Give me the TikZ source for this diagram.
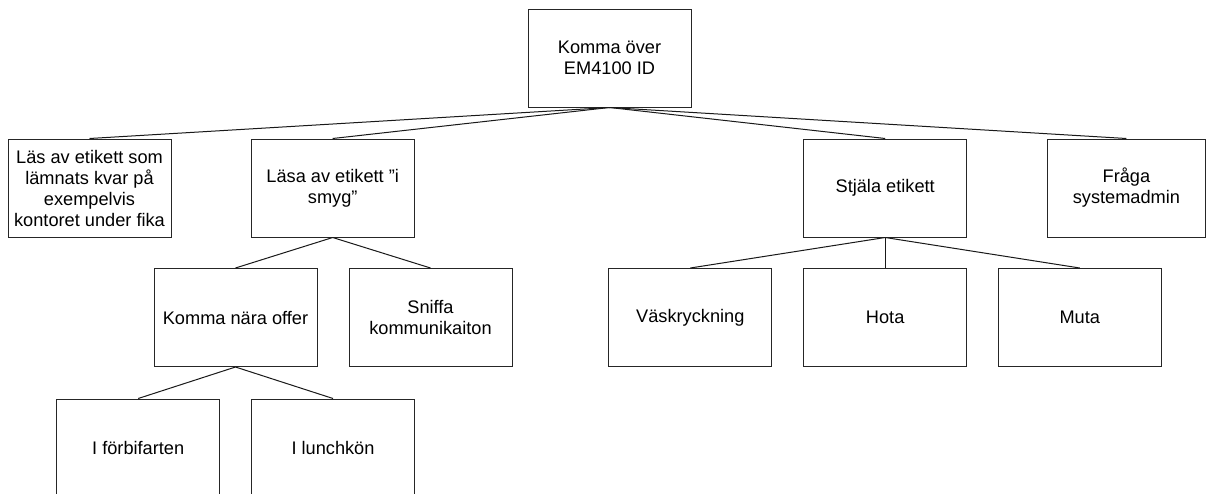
\documentclass[tikz,border=0pt]{standalone}
\usepackage{fontspec}
\setmainfont{Liberation Sans}
\begin{document}
\begin{tikzpicture}[x=0.75pt,y=-0.75pt,
  box/.style={draw=black!85, line width=0.75pt, fill=white, inner sep=0pt,
    minimum width=122.25pt, minimum height=73.5pt, align=center,
    font=\fontsize{13.65pt}{15.75pt}\selectfont},
  conn/.style={draw=black!90, line width=0.75pt}]
\clip (0,0) rectangle (1206,493);
\fill[white] (0,0) rectangle (1206,493);
% level 0
\node[box] (root) at (609.5,58) {Komma över\\EM4100 ID};
% level 1
\node[box] (A) at (89.5,188) {Läs av etikett som\\lämnats kvar på\\exempelvis\\kontoret under fika};
\node[box] (B) at (332.7,188) {Läsa av etikett ”i\\smyg”};
\node[box] (C) at (885.2,188) {Stjäla etikett};
\node[box, minimum width=118.2pt] (D) at (1126.4,188) {Fråga\\systemadmin};
% level 2
\node[box] (B1) at (235.5,317.5) {Komma nära offer};
\node[box] (B2) at (430.5,317.5) {Sniffa\\kommunikaiton};
\node[box] (C1) at (690.3,317.5) {Väskryckning};
\node[box] (C2) at (885.2,317.5) {Hota};
\node[box] (C3) at (1079.8,317.5) {Muta};
% level 3
\node[box] (B11) at (138.2,448) {I förbifarten};
\node[box] (B12) at (333,448) {I lunchkön};
% connectors
\foreach \c in {A,B,C,D} \draw[conn] (root.south) -- (\c.north);
\foreach \c in {B1,B2} \draw[conn] (B.south) -- (\c.north);
\foreach \c in {C1,C2,C3} \draw[conn] (C.south) -- (\c.north);
\foreach \c in {B11,B12} \draw[conn] (B1.south) -- (\c.north);
\end{tikzpicture}
\end{document}
